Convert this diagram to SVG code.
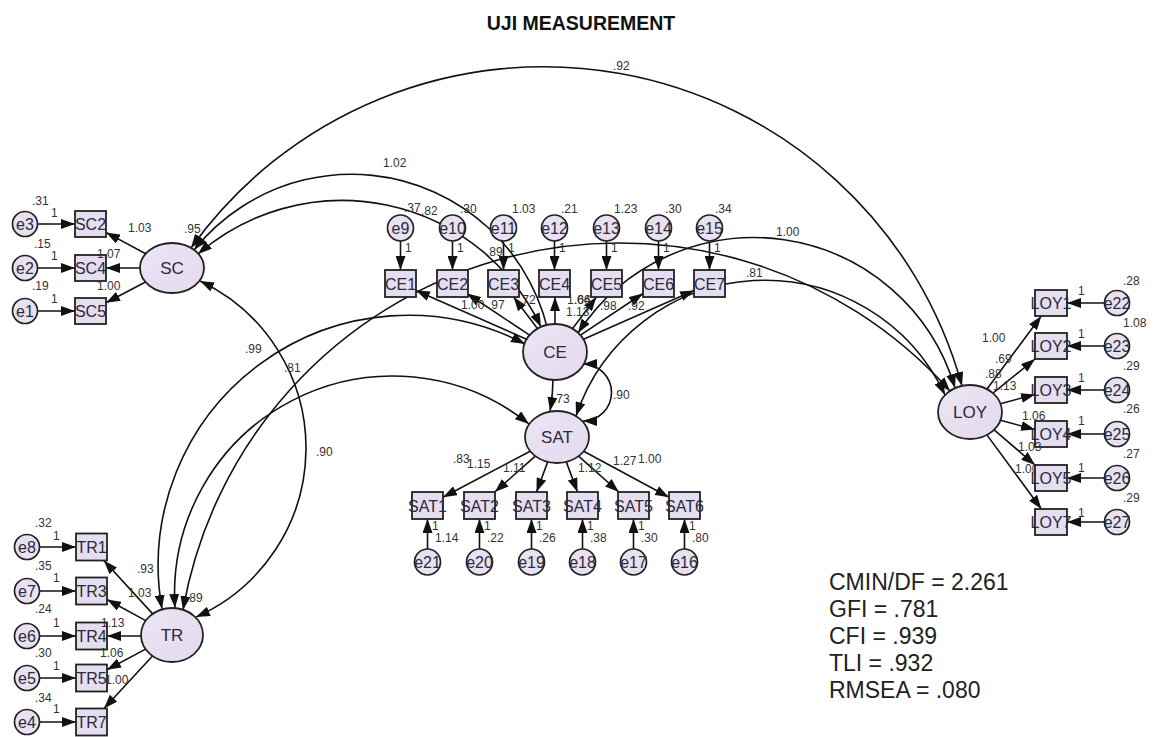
<svg xmlns="http://www.w3.org/2000/svg" width="1159" height="737" viewBox="0 0 1159 737">
<defs>
  <linearGradient id="lg" x1="0" y1="0" x2="1" y2="1">
    <stop offset="0" stop-color="#e9e5f3"/>
    <stop offset="1" stop-color="#e6d9ef"/>
  </linearGradient>
  <marker id="ah" viewBox="0 0 14 10" refX="14" refY="5" markerWidth="14" markerHeight="10" markerUnits="userSpaceOnUse" orient="auto-start-reverse">
    <path d="M0,0 L14,5 L0,10 z" fill="#111"/>
  </marker>
</defs>
<style>
  .lat{fill:url(#lg);stroke:#222;stroke-width:1.8}
  .obs{fill:#e5ddf0;stroke:#222;stroke-width:1.8}
  .err{fill:#e8e1f1;stroke:#222;stroke-width:1.7}
  text{font-family:"Liberation Sans",Arial,sans-serif;fill:#333}
  .lt{font-size:17px;text-anchor:middle;fill:#2a2a3a}
  .ot{font-size:16px;text-anchor:middle;fill:#2a2a3a}
  .et{font-size:16px;text-anchor:middle;fill:#2a2a3a}
  .n{font-size:12px}
  .p{fill:none;stroke:#111;stroke-width:1.6;marker-end:url(#ah)}
  .c{fill:none;stroke:#111;stroke-width:1.6;marker-start:url(#ah);marker-end:url(#ah)}
  .fit{font-size:23px;fill:#222}
  .title{font-size:19.5px;font-weight:bold;text-anchor:middle;fill:#111}
</style>
<rect width="1159" height="737" fill="#fff"/>
<text class="title" x="581" y="30">UJI MEASUREMENT</text>

<!-- paths, covariances and estimates that sit under boxes -->
<g id="connectors">
  <!-- covariances -->
  <path class="c" d="M191,248 A433.7,433.7 0 0 1 962,386"/>
  <path class="c" d="M194,250 A201.6,201.6 0 0 1 550,411"/>
  <path class="c" d="M198,254 A220,220 0 0 1 541,327"/>
  <path class="c" d="M200,281 A184.7,184.7 0 0 1 196,617"/>
  <path class="c" d="M583,364 A28.5,28.5 0 0 1 583,421"/>
  <path class="c" d="M576,416 A199,199 0 0 1 945,395"/>
  <path class="c" d="M578,333 A209.7,209.7 0 0 1 955,388"/>
  <path class="c" d="M183,610 A443,443 0 0 1 950,391"/>
  <path class="c" d="M162,609 A250.3,250.3 0 0 1 525,344"/>
  <path class="c" d="M175,608 A218,218 0 0 1 529,424"/>
  <!-- SC loadings -->
  <path class="p" d="M145.7,253.8 L106,232.4"/>
  <path class="p" d="M140,268 L106,268"/>
  <path class="p" d="M145.5,282 L106,302.8"/>
  <path class="p" d="M37.5,224 L75,224"/>
  <path class="p" d="M37.5,268 L75,268"/>
  <path class="p" d="M37.5,311 L75,311"/>
  <!-- TR loadings -->
  <path class="p" d="M152.7,613.9 L103.8,560.5"/>
  <path class="p" d="M145.7,620.6 L107,599.5"/>
  <path class="p" d="M141,636 L107,636"/>
  <path class="p" d="M145.6,649.1 L107,669.7"/>
  <path class="p" d="M152.5,656 L104,708.5"/>
  <path class="p" d="M39.5,547 L76,547"/>
  <path class="p" d="M39.5,591 L76,591"/>
  <path class="p" d="M39.5,636 L76,636"/>
  <path class="p" d="M39.5,678 L76,678"/>
  <path class="p" d="M39.5,722 L76,722"/>
  <!-- CE loadings -->
  <path class="p" d="M526.5,339.3 L416,290.4"/>
  <path class="p" d="M529.5,335.1 L467,293.5"/>
  <path class="p" d="M537.4,328.6 L513.6,297"/>
  <path class="p" d="M555,324 L555,297"/>
  <path class="p" d="M572.6,328.6 L596.4,297"/>
  <path class="p" d="M580.5,335.1 L643,293.5"/>
  <path class="p" d="M583.5,339.3 L694,290.4"/>
  <path class="p" d="M400.5,241 L400.5,270"/>
  <path class="p" d="M452.5,241 L452.5,270"/>
  <path class="p" d="M503.5,241 L503.5,270"/>
  <path class="p" d="M554.5,241 L554.5,270"/>
  <path class="p" d="M606.5,241 L606.5,270"/>
  <path class="p" d="M658.5,241 L658.5,270"/>
  <path class="p" d="M709.5,241 L709.5,270"/>
  <!-- SAT loadings -->
  <path class="p" d="M530.2,451.2 L443,497.3"/>
  <path class="p" d="M535.3,456.1 L494.8,492"/>
  <path class="p" d="M547.7,461.9 L536.5,492"/>
  <path class="p" d="M566.3,461.9 L577.5,492"/>
  <path class="p" d="M578.6,456.2 L618.8,492"/>
  <path class="p" d="M583.7,451.3 L669,497.2"/>
  <path class="p" d="M427.5,549 L427.5,519"/>
  <path class="p" d="M479.5,549 L479.5,519"/>
  <path class="p" d="M531.5,549 L531.5,519"/>
  <path class="p" d="M582.5,549 L582.5,519"/>
  <path class="p" d="M633.5,549 L633.5,519"/>
  <path class="p" d="M684.5,549 L684.5,519"/>
  <!-- LOY loadings -->
  <path class="p" d="M987,389.1 L1041.3,316"/>
  <path class="p" d="M993,393.2 L1035,359"/>
  <path class="p" d="M1000.5,403.7 L1035,394.4"/>
  <path class="p" d="M1000.5,420.3 L1035,429.6"/>
  <path class="p" d="M993,428.8 L1035,465"/>
  <path class="p" d="M986.9,434.9 L1041.4,509"/>
  <path class="p" d="M1104.5,303 L1067,303"/>
  <path class="p" d="M1104.5,346 L1067,346"/>
  <path class="p" d="M1104.5,390 L1067,390"/>
  <path class="p" d="M1104.5,434 L1067,434"/>
  <path class="p" d="M1104.5,478 L1067,478"/>
  <path class="p" d="M1104.5,522 L1067,522"/>
  <!-- estimates partly covered by boxes -->
  <text class="n" x="105" y="684">1.00</text>
  <text class="n" x="1015" y="473">1.00</text>
  <text class="n" x="461" y="309">1.00</text>
</g>

<!-- latent variables -->
<g id="SC"><ellipse class="lat" cx="172" cy="268" rx="32" ry="25"/><text class="lt" x="172" y="274">SC</text></g>
<g id="TR"><ellipse class="lat" cx="172" cy="635" rx="31" ry="27"/><text class="lt" x="172" y="641">TR</text></g>
<g id="CE"><ellipse class="lat" cx="555" cy="352" rx="32" ry="28"/><text class="lt" x="555" y="358">CE</text></g>
<g id="SAT"><ellipse class="lat" cx="557" cy="437" rx="32" ry="26"/><text class="lt" x="557" y="443">SAT</text></g>
<g id="LOY"><ellipse class="lat" cx="970" cy="412" rx="32" ry="27"/><text class="lt" x="970" y="418">LOY</text></g>

<!-- SC indicators -->
<g id="SC2"><rect class="obs" x="75" y="211" width="31" height="26"/><text class="ot" x="90.5" y="229.5">SC2</text></g>
<g id="SC4"><rect class="obs" x="75" y="255" width="31" height="26"/><text class="ot" x="90.5" y="273.5">SC4</text></g>
<g id="SC5"><rect class="obs" x="75" y="298" width="31" height="26"/><text class="ot" x="90.5" y="316.5">SC5</text></g>
<g id="e3"><circle class="err" cx="25" cy="224" r="12.5"/><text class="et" x="25" y="229.5">e3</text></g>
<g id="e2"><circle class="err" cx="25" cy="268" r="12.5"/><text class="et" x="25" y="273.5">e2</text></g>
<g id="e1"><circle class="err" cx="25" cy="311" r="12.5"/><text class="et" x="25" y="316.5">e1</text></g>

<!-- TR indicators -->
<g id="TR1"><rect class="obs" x="76" y="533.5" width="31" height="27"/><text class="ot" x="91.5" y="552.5">TR1</text></g>
<g id="TR3"><rect class="obs" x="76" y="577.5" width="31" height="27"/><text class="ot" x="91.5" y="596.5">TR3</text></g>
<g id="TR4"><rect class="obs" x="76" y="622.5" width="31" height="27"/><text class="ot" x="91.5" y="641.5">TR4</text></g>
<g id="TR5"><rect class="obs" x="76" y="664.5" width="31" height="27"/><text class="ot" x="91.5" y="683.5">TR5</text></g>
<g id="TR7"><rect class="obs" x="76" y="708.5" width="31" height="27"/><text class="ot" x="91.5" y="727.5">TR7</text></g>
<g id="e8"><circle class="err" cx="27" cy="547" r="12.5"/><text class="et" x="27" y="552.5">e8</text></g>
<g id="e7"><circle class="err" cx="27" cy="591" r="12.5"/><text class="et" x="27" y="596.5">e7</text></g>
<g id="e6"><circle class="err" cx="27" cy="636" r="12.5"/><text class="et" x="27" y="641.5">e6</text></g>
<g id="e5"><circle class="err" cx="27" cy="678" r="12.5"/><text class="et" x="27" y="683.5">e5</text></g>
<g id="e4"><circle class="err" cx="27" cy="722" r="12.5"/><text class="et" x="27" y="727.5">e4</text></g>

<!-- CE indicators -->
<g id="CE1"><rect class="obs" x="385" y="270" width="31" height="27"/><text class="ot" x="400.5" y="289.5">CE1</text></g>
<g id="CE2"><rect class="obs" x="437" y="270" width="31" height="27"/><text class="ot" x="452.5" y="289.5">CE2</text></g>
<g id="CE3"><rect class="obs" x="488" y="270" width="31" height="27"/><text class="ot" x="503.5" y="289.5">CE3</text></g>
<g id="CE4"><rect class="obs" x="539" y="270" width="31" height="27"/><text class="ot" x="554.5" y="289.5">CE4</text></g>
<g id="CE5"><rect class="obs" x="591" y="270" width="31" height="27"/><text class="ot" x="606.5" y="289.5">CE5</text></g>
<g id="CE6"><rect class="obs" x="643" y="270" width="31" height="27"/><text class="ot" x="658.5" y="289.5">CE6</text></g>
<g id="CE7"><rect class="obs" x="694" y="270" width="31" height="27"/><text class="ot" x="709.5" y="289.5">CE7</text></g>
<g id="e9"><circle class="err" cx="400.5" cy="228" r="13"/><text class="et" x="400.5" y="233.5">e9</text></g>
<g id="e10"><circle class="err" cx="452.5" cy="228" r="13"/><text class="et" x="452.5" y="233.5">e10</text></g>
<g id="e11"><circle class="err" cx="503.5" cy="228" r="13"/><text class="et" x="503.5" y="233.5">e11</text></g>
<g id="e12"><circle class="err" cx="554.5" cy="228" r="13"/><text class="et" x="554.5" y="233.5">e12</text></g>
<g id="e13"><circle class="err" cx="606.5" cy="228" r="13"/><text class="et" x="606.5" y="233.5">e13</text></g>
<g id="e14"><circle class="err" cx="658.5" cy="228" r="13"/><text class="et" x="658.5" y="233.5">e14</text></g>
<g id="e15"><circle class="err" cx="709.5" cy="228" r="13"/><text class="et" x="709.5" y="233.5">e15</text></g>

<!-- SAT indicators -->
<g id="SAT1"><rect class="obs" x="412" y="492" width="31" height="27"/><text class="ot" x="427.5" y="511.5">SAT1</text></g>
<g id="SAT2"><rect class="obs" x="464" y="492" width="31" height="27"/><text class="ot" x="479.5" y="511.5">SAT2</text></g>
<g id="SAT3"><rect class="obs" x="516" y="492" width="31" height="27"/><text class="ot" x="531.5" y="511.5">SAT3</text></g>
<g id="SAT4"><rect class="obs" x="567" y="492" width="31" height="27"/><text class="ot" x="582.5" y="511.5">SAT4</text></g>
<g id="SAT5"><rect class="obs" x="618" y="492" width="31" height="27"/><text class="ot" x="633.5" y="511.5">SAT5</text></g>
<g id="SAT6"><rect class="obs" x="669" y="492" width="31" height="27"/><text class="ot" x="684.5" y="511.5">SAT6</text></g>
<g id="e21"><circle class="err" cx="427.5" cy="562" r="13"/><text class="et" x="427.5" y="567.5">e21</text></g>
<g id="e20"><circle class="err" cx="479.5" cy="562" r="13"/><text class="et" x="479.5" y="567.5">e20</text></g>
<g id="e19"><circle class="err" cx="531.5" cy="562" r="13"/><text class="et" x="531.5" y="567.5">e19</text></g>
<g id="e18"><circle class="err" cx="582.5" cy="562" r="13"/><text class="et" x="582.5" y="567.5">e18</text></g>
<g id="e17"><circle class="err" cx="633.5" cy="562" r="13"/><text class="et" x="633.5" y="567.5">e17</text></g>
<g id="e16"><circle class="err" cx="684.5" cy="562" r="13"/><text class="et" x="684.5" y="567.5">e16</text></g>

<!-- LOY indicators -->
<g id="LOY1"><rect class="obs" x="1035" y="290" width="32" height="26"/><text class="ot" x="1051" y="308.5">LOY1</text></g>
<g id="LOY2"><rect class="obs" x="1035" y="333" width="32" height="26"/><text class="ot" x="1051" y="351.5">LOY2</text></g>
<g id="LOY3"><rect class="obs" x="1035" y="377" width="32" height="26"/><text class="ot" x="1051" y="395.5">LOY3</text></g>
<g id="LOY4"><rect class="obs" x="1035" y="421" width="32" height="26"/><text class="ot" x="1051" y="439.5">LOY4</text></g>
<g id="LOY5"><rect class="obs" x="1035" y="465" width="32" height="26"/><text class="ot" x="1051" y="483.5">LOY5</text></g>
<g id="LOY7"><rect class="obs" x="1035" y="509" width="32" height="26"/><text class="ot" x="1051" y="527.5">LOY7</text></g>
<g id="e22"><circle class="err" cx="1117" cy="303" r="12.5"/><text class="et" x="1117" y="308.5">e22</text></g>
<g id="e23"><circle class="err" cx="1117" cy="346" r="12.5"/><text class="et" x="1117" y="351.5">e23</text></g>
<g id="e24"><circle class="err" cx="1117" cy="390" r="12.5"/><text class="et" x="1117" y="395.5">e24</text></g>
<g id="e25"><circle class="err" cx="1117" cy="434" r="12.5"/><text class="et" x="1117" y="439.5">e25</text></g>
<g id="e26"><circle class="err" cx="1117" cy="478" r="12.5"/><text class="et" x="1117" y="483.5">e26</text></g>
<g id="e27"><circle class="err" cx="1117" cy="522" r="12.5"/><text class="et" x="1117" y="527.5">e27</text></g>

<!-- estimates -->
<g id="estimates">
  <text class="n" x="32" y="205">.31</text><text class="n" x="51" y="217">1</text>
  <text class="n" x="34" y="248">.15</text><text class="n" x="51" y="260">1</text>
  <text class="n" x="32" y="290">.19</text><text class="n" x="51" y="303">1</text>
  <text class="n" x="128" y="232">1.03</text><text class="n" x="184" y="233">.95</text>
  <text class="n" x="97" y="258">1.07</text><text class="n" x="97" y="290">1.00</text>

  <text class="n" x="35" y="527">.32</text><text class="n" x="53" y="540">1</text>
  <text class="n" x="35" y="570">.35</text><text class="n" x="53" y="582">1</text>
  <text class="n" x="35" y="613">.24</text><text class="n" x="53" y="627">1</text>
  <text class="n" x="35" y="657">.30</text><text class="n" x="53" y="670">1</text>
  <text class="n" x="35" y="702">.34</text><text class="n" x="53" y="713">1</text>
  <text class="n" x="137" y="573">.93</text><text class="n" x="128" y="597">1.03</text>
  <text class="n" x="186" y="602">.89</text><text class="n" x="101" y="627">1.13</text>
  <text class="n" x="100" y="657">1.06</text>

  <text class="n" x="613" y="70">.92</text>
  <text class="n" x="383" y="167">1.02</text>
  <text class="n" x="421" y="215">.82</text>
  <text class="n" x="316" y="456">.90</text>
  <text class="n" x="245" y="353">.99</text>
  <text class="n" x="284" y="372">.81</text>
  <text class="n" x="486" y="256">.89</text>
  <text class="n" x="776" y="236">1.00</text>
  <text class="n" x="746" y="277">.81</text>
  <text class="n" x="613" y="399">.90</text>

  <text class="n" x="404" y="212">.37</text><text class="n" x="460" y="213">.30</text>
  <text class="n" x="512" y="213">1.03</text><text class="n" x="561" y="213">.21</text>
  <text class="n" x="614" y="213">1.23</text><text class="n" x="665" y="213">.30</text>
  <text class="n" x="715" y="213">.34</text>
  <text class="n" x="405" y="252">1</text><text class="n" x="457" y="252">1</text>
  <text class="n" x="508" y="252">1</text><text class="n" x="559" y="252">1</text>
  <text class="n" x="611" y="252">1</text><text class="n" x="663" y="252">1</text>
  <text class="n" x="714" y="252">1</text>
  <text class="n" x="488" y="309">.97</text><text class="n" x="519" y="304">.72</text>
  <text class="n" x="567" y="304">1.06</text><text class="n" x="574" y="304">.64</text>
  <text class="n" x="566" y="316">1.13</text><text class="n" x="600" y="310">.98</text>
  <text class="n" x="628" y="310">.92</text>
  <text class="n" x="553" y="403">.73</text>

  <text class="n" x="453" y="463">.83</text><text class="n" x="467" y="468">1.15</text>
  <text class="n" x="503" y="472">1.11</text><text class="n" x="578" y="472">1.12</text>
  <text class="n" x="613" y="465">1.27</text><text class="n" x="638" y="463">1.00</text>
  <text class="n" x="432" y="530">1</text><text class="n" x="484" y="530">1</text>
  <text class="n" x="536" y="530">1</text><text class="n" x="587" y="530">1</text>
  <text class="n" x="638" y="530">1</text><text class="n" x="689" y="530">1</text>
  <text class="n" x="435" y="542">1.14</text><text class="n" x="487" y="542">.22</text>
  <text class="n" x="539" y="542">.26</text><text class="n" x="590" y="542">.38</text>
  <text class="n" x="641" y="542">.30</text><text class="n" x="692" y="542">.80</text>

  <text class="n" x="1123" y="285">.28</text><text class="n" x="1078" y="295">1</text>
  <text class="n" x="1123" y="327">1.08</text><text class="n" x="1078" y="338">1</text>
  <text class="n" x="1123" y="370">.29</text><text class="n" x="1078" y="382">1</text>
  <text class="n" x="1123" y="413">.26</text><text class="n" x="1078" y="425">1</text>
  <text class="n" x="1123" y="458">.27</text><text class="n" x="1078" y="472">1</text>
  <text class="n" x="1123" y="502">.29</text><text class="n" x="1078" y="517">1</text>
  <text class="n" x="982" y="342">1.00</text><text class="n" x="995" y="363">.69</text>
  <text class="n" x="985" y="378">.88</text><text class="n" x="993" y="390">1.13</text>
  <text class="n" x="1022" y="420">1.06</text><text class="n" x="1018" y="451">1.03</text>
</g>

<!-- fit indices -->
<g id="fit">
  <text class="fit" x="829" y="590">CMIN/DF = 2.261</text>
  <text class="fit" x="829" y="617">GFI = .781</text>
  <text class="fit" x="829" y="644">CFI = .939</text>
  <text class="fit" x="829" y="671">TLI = .932</text>
  <text class="fit" x="829" y="698">RMSEA = .080</text>
</g>
</svg>
